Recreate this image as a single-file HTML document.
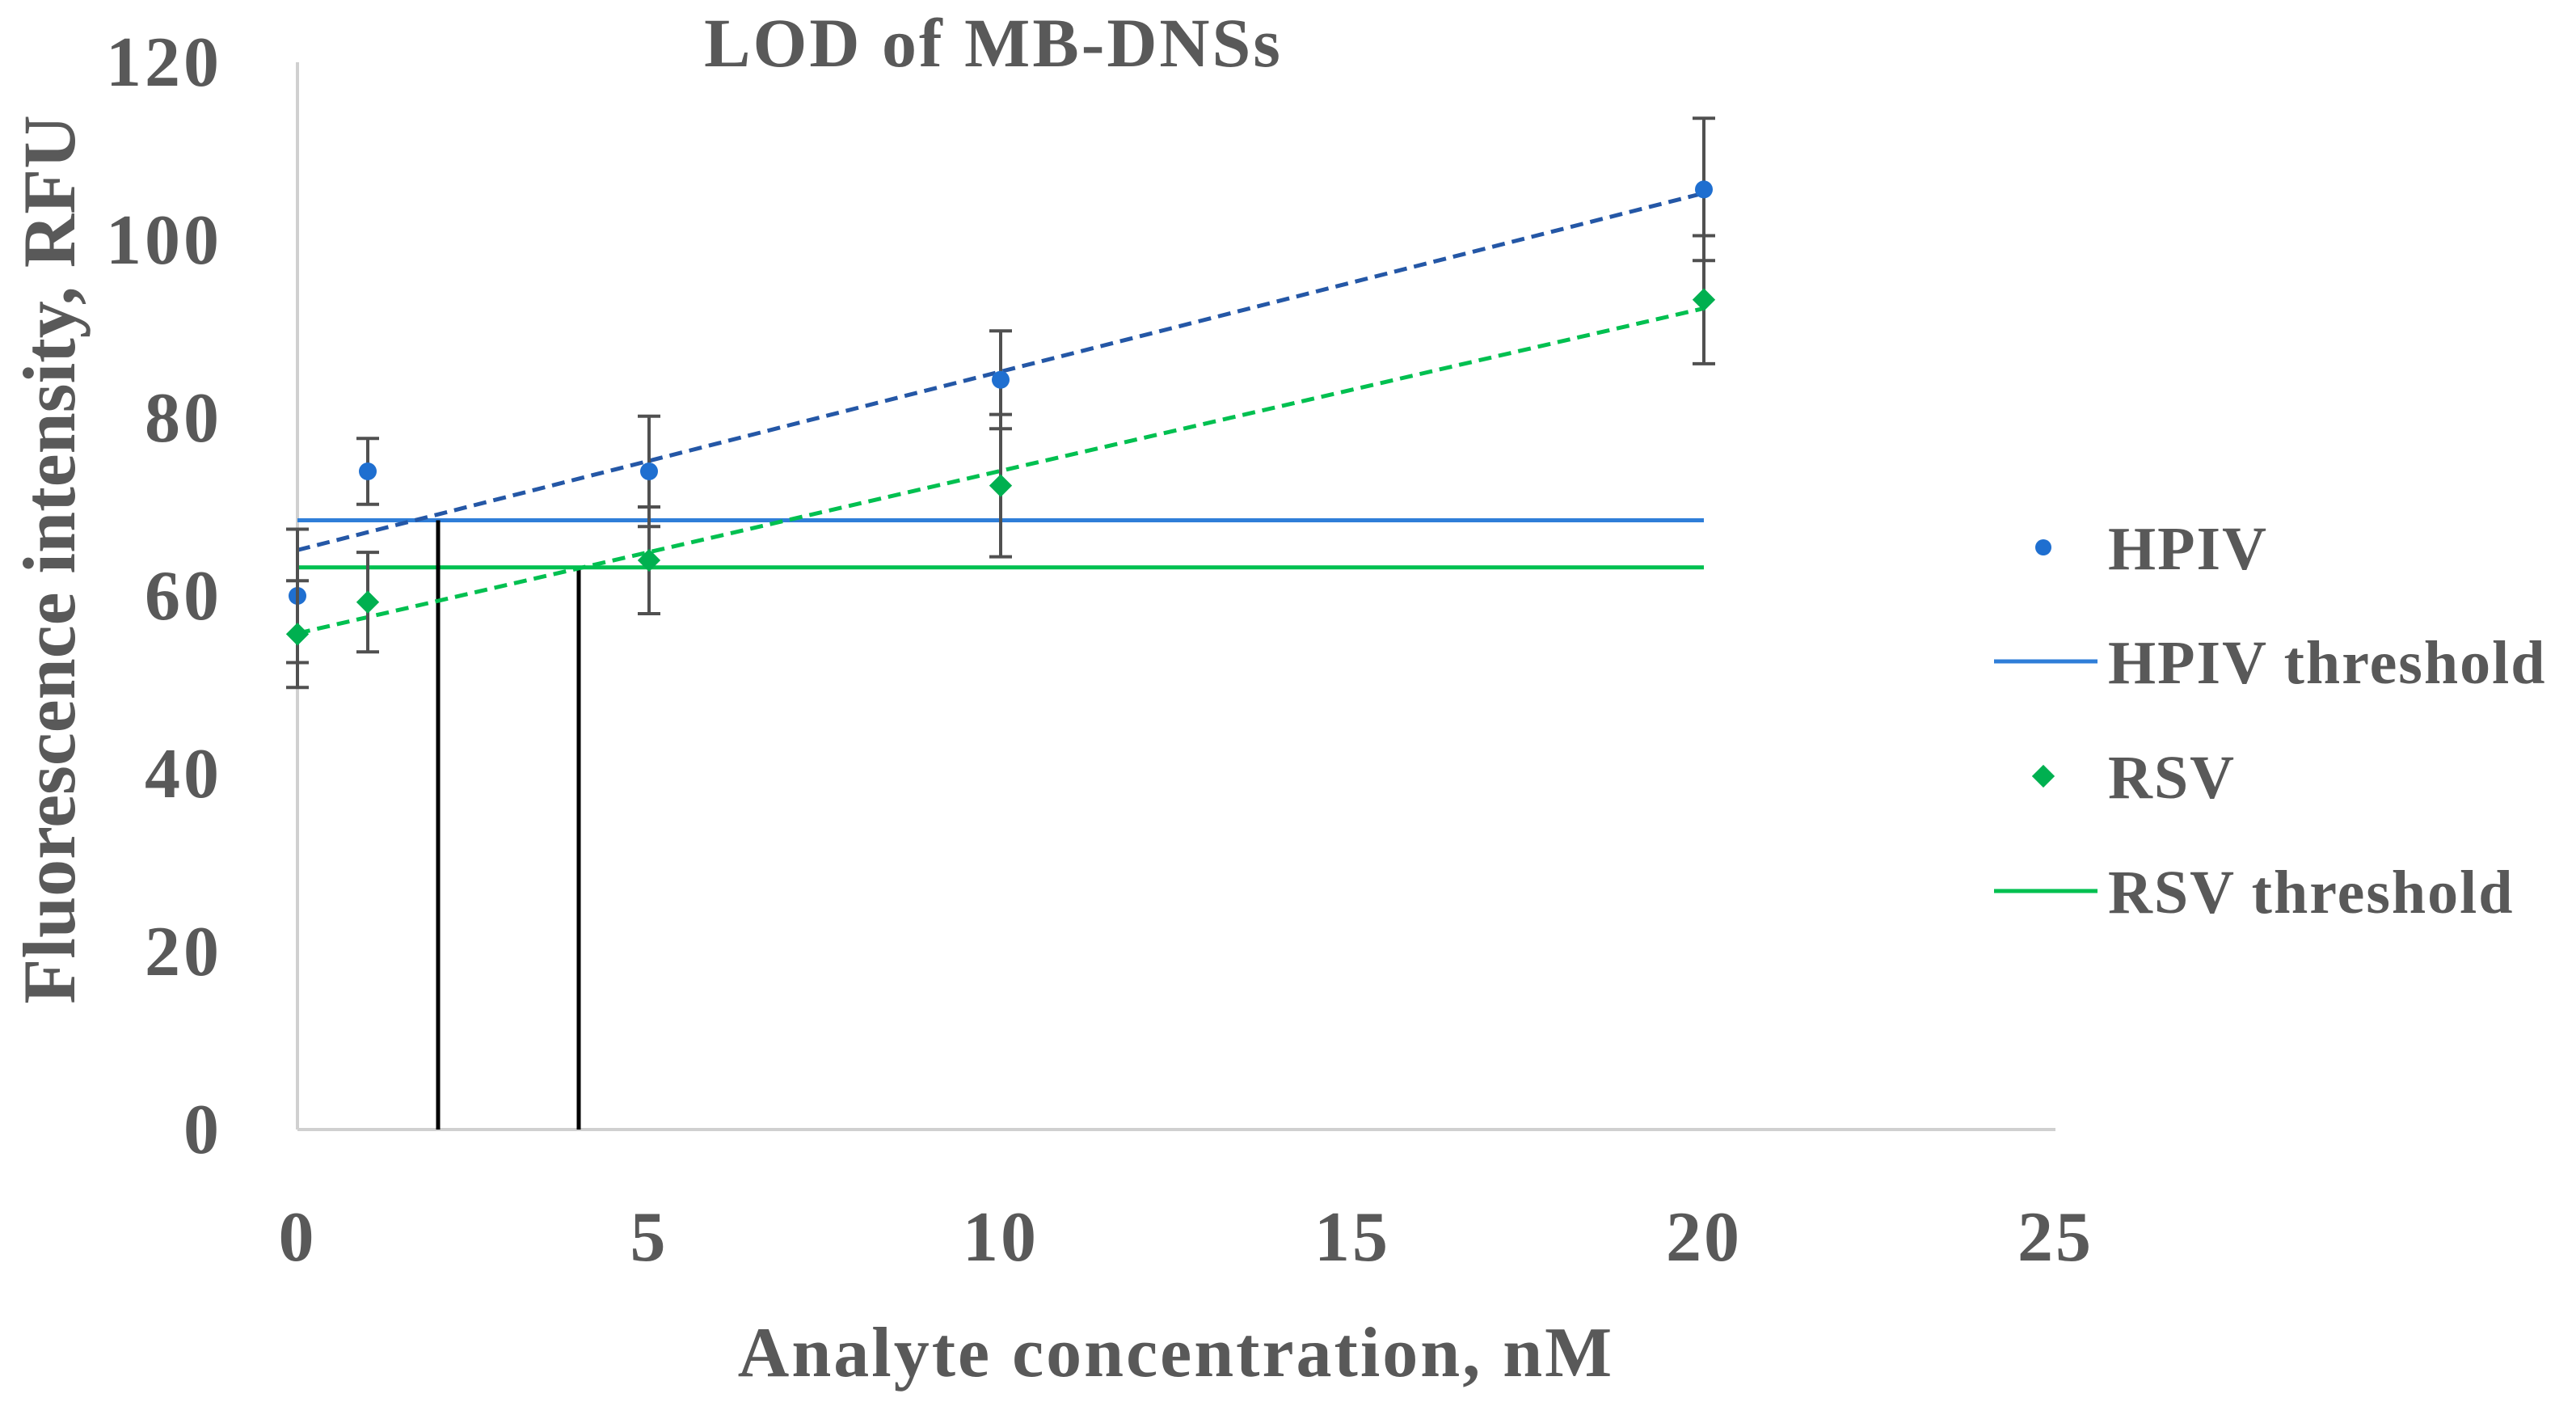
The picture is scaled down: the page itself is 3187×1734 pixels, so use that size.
<!DOCTYPE html>
<html><head><meta charset="utf-8"><style>
html,body{margin:0;padding:0;background:#fff}
svg{display:block}
text{font-family:"Liberation Serif",serif;font-weight:bold;fill:#595959}
</style></head><body>
<svg width="3187" height="1734" viewBox="0 0 3187 1734" id="chart">
<text x="1229" y="82" font-size="86" letter-spacing="3" text-anchor="middle">LOD of MB-DNSs</text>
<text transform="translate(92,692) rotate(-90)" font-size="92" text-anchor="middle">Fluorescence intensity, RFU</text>
<text x="1455" y="1702" font-size="88" letter-spacing="3" text-anchor="middle">Analyte concentration, nM</text>
<g id="plot"></g>
<g id="legend">
<circle cx="2528" cy="677" r="10" fill="#1f6fd0"/>
<text x="2608" y="704" font-size="76" letter-spacing="2">HPIV</text>
<line x1="2467" y1="818" x2="2595" y2="818" stroke="#2f7ed8" stroke-width="5"/>
<text x="2608" y="845" font-size="76" letter-spacing="2">HPIV threshold</text>
<rect x="2518" y="950" width="20" height="20" fill="#00b050" transform="rotate(45 2528 960)"/>
<text x="2608" y="987" font-size="76" letter-spacing="2">RSV</text>
<line x1="2467" y1="1102" x2="2595" y2="1102" stroke="#00c050" stroke-width="5"/>
<text x="2608" y="1129" font-size="76" letter-spacing="2">RSV threshold</text>
</g>
</svg>
<script>
const xCats=[0,1,5,10,20];
const hpivVals=[60,74,74,84.3,105.7];
const hpivErr=[7.5,3.7,6.2,5.5,8];
const rsvVals=[55.7,59.3,64,72.4,93.3];
const rsvErr=[6,5.6,6,8,7.2];
const hpivThreshold=68.5;
const rsvThreshold=63.2;
const lodX=[2,4];
const yTicks=[0,20,40,60,80,100,120];
const xTicks=[0,5,10,15,20,25];

const NS="http://www.w3.org/2000/svg";
const X0=368,X1=2543,Y0=1397,Y1=77;
const sx=v=>X0+(v-0)/25*(X1-X0);
const sy=v=>Y0-(v-0)/120*(Y0-Y1);
const plot=document.getElementById('plot');
function mk(tag,attrs,parent){const e=document.createElementNS(NS,tag);for(const k in attrs)e.setAttribute(k,attrs[k]);(parent||plot).appendChild(e);return e;}

let ax=mk('line',{x1:X0,y1:Y0,x2:X0,y2:Y1,stroke:'#d0d0d0','stroke-width':4});


let bx=mk('line',{x1:X0,y1:Y0,x2:X1,y2:Y0,stroke:'#d0d0d0','stroke-width':4});



yTicks.forEach(t=>{const e=mk('text',{x:275,y:sy(t)+29,'font-size':88,'letter-spacing':4,'text-anchor':'end'});e.textContent=t;

});
xTicks.forEach(t=>{const e=mk('text',{x:sx(t),y:1559,'font-size':88,'letter-spacing':3,'text-anchor':'middle'});e.textContent=t;

});

let th1=mk('line',{x1:sx(0),y1:sy(hpivThreshold),x2:sx(20),y2:sy(hpivThreshold),stroke:'#2f7ed8','stroke-width':5});


let th2=mk('line',{x1:sx(0),y1:sy(rsvThreshold),x2:sx(20),y2:sy(rsvThreshold),stroke:'#00c050','stroke-width':5});


[hpivThreshold,rsvThreshold].forEach((th,i)=>{const l=mk('line',{x1:sx(lodX[i]),y1:sy(th),x2:sx(lodX[i]),y2:Y0,stroke:'#000','stroke-width':5});

});

function fit(xs,ys){const n=xs.length;const mx=xs.reduce((a,b)=>a+b)/n,my=ys.reduce((a,b)=>a+b)/n;let num=0,den=0;xs.forEach((x,i)=>{num+=(x-mx)*(ys[i]-my);den+=(x-mx)*(x-mx);});const m=num/den;return [m,my-m*mx];}
function series(vals,errs,color,trendColor,name,diamond){
  const [m,b]=fit(xCats,vals);
  const t=mk('line',{x1:sx(0),y1:sy(b),x2:sx(20),y2:sy(b+m*20),stroke:trendColor,'stroke-width':5,'stroke-dasharray':'16 9'});
  
  
  xCats.forEach((x,i)=>{
    const g=mk('g',{});
    
    
    const cx=sx(x),top=sy(vals[i]+errs[i]),bot=sy(vals[i]-errs[i]);
    mk('line',{x1:cx,y1:top,x2:cx,y2:bot,stroke:'#505050','stroke-width':4},g);
    mk('line',{x1:cx-14,y1:top,x2:cx+14,y2:top,stroke:'#505050','stroke-width':4},g);
    mk('line',{x1:cx-14,y1:bot,x2:cx+14,y2:bot,stroke:'#505050','stroke-width':4},g);
  });
  xCats.forEach((x,i)=>{
    let p;
    if(diamond)p=mk('rect',{x:sx(x)-10,y:sy(vals[i])-10,width:20,height:20,fill:color,transform:`rotate(45 ${sx(x)} ${sy(vals[i])})`});
    else p=mk('circle',{cx:sx(x),cy:sy(vals[i]),r:11,fill:color});
    
    
  });
}
series(hpivVals,hpivErr,'#1f6fd0','#2457a6','hpiv',false);
series(rsvVals,rsvErr,'#00b050','#00c050','rsv',true);
</script>
</body></html>
